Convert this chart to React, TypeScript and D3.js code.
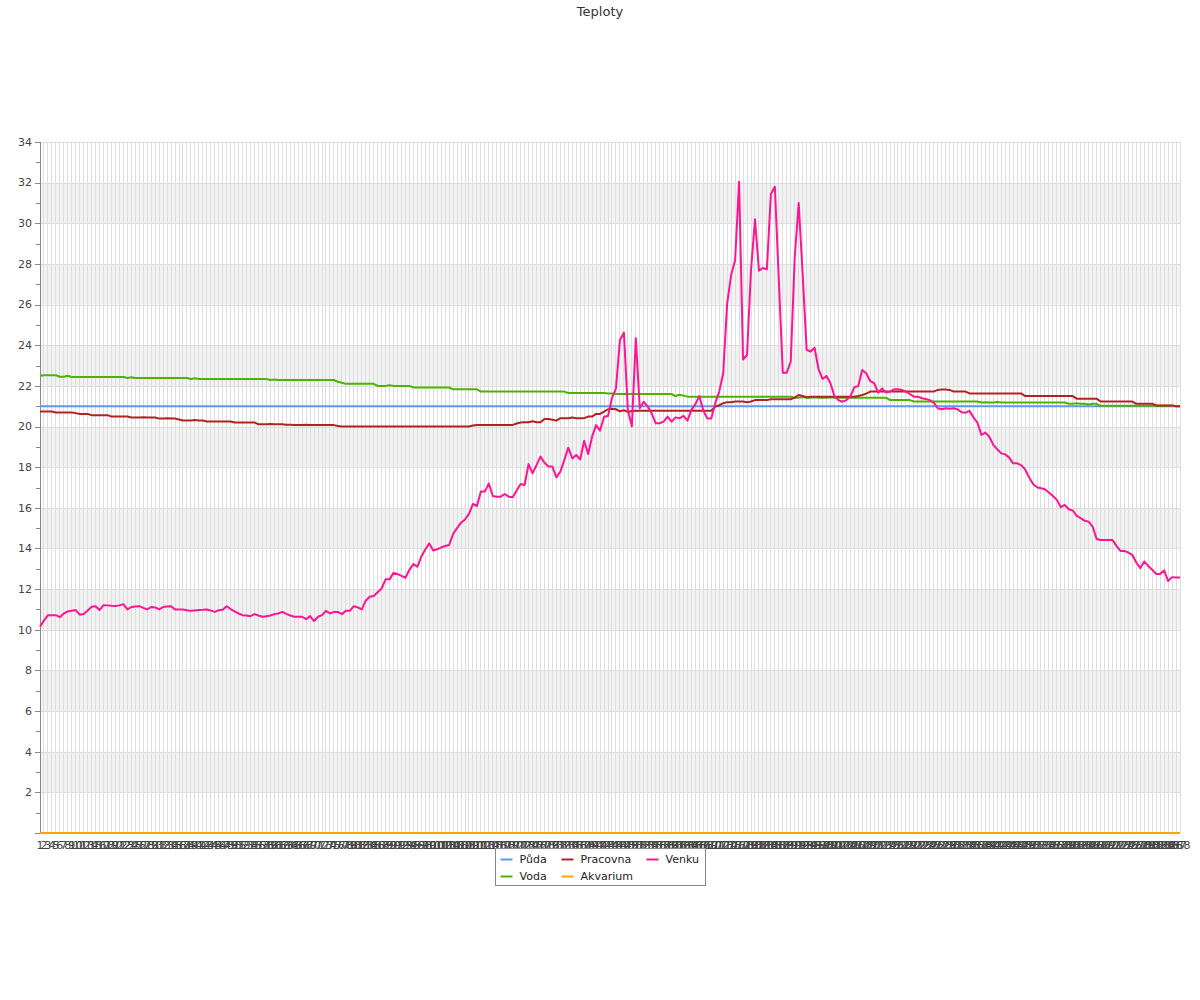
import React, { useEffect, useRef } from 'react';
import * as d3 from 'd3';

// 5-minute readings over one day (288 samples)
const labels = d3.range(1, 289).map(String);

const venku = [
  10.15, 10.45, 10.72, 10.72, 10.72, 10.62, 10.8, 10.9, 10.94, 10.97,
  10.74, 10.78, 10.95, 11.13, 11.16, 10.97, 11.21, 11.2, 11.18, 11.17,
  11.2, 11.26, 11.0, 11.12, 11.15, 11.16, 11.08, 11.0, 11.12, 11.1,
  11.0, 11.12, 11.14, 11.16, 11.0, 11.0, 11.0, 10.96, 10.93, 10.95,
  10.97, 10.98, 11.0, 10.94, 10.88, 10.96, 10.98, 11.16, 11.02, 10.9,
  10.8, 10.72, 10.7, 10.67, 10.77, 10.7, 10.64, 10.67, 10.7, 10.77,
  10.8, 10.88, 10.78, 10.7, 10.64, 10.64, 10.64, 10.52, 10.67, 10.43,
  10.64, 10.72, 10.93, 10.8, 10.88, 10.88, 10.77, 10.93, 10.93, 11.16,
  11.1, 11.0, 11.43, 11.62, 11.66, 11.85, 12.03, 12.48, 12.48, 12.8,
  12.74, 12.65, 12.56, 12.95, 13.23, 13.1, 13.6, 13.95, 14.25, 13.9,
  13.96, 14.05, 14.12, 14.17, 14.71, 15.0, 15.27, 15.43, 15.7, 16.19,
  16.09, 16.8, 16.8, 17.2, 16.58, 16.55, 16.55, 16.68, 16.55, 16.52,
  16.85, 17.17, 17.12, 18.15, 17.7, 18.1, 18.52, 18.22, 18.03, 18.03,
  17.5, 17.78, 18.35, 18.96, 18.43, 18.6, 18.38, 19.3, 18.65, 19.5,
  20.07, 19.8, 20.48, 20.52, 21.4, 21.88, 24.26, 24.62, 20.8, 20.0,
  24.34, 20.9, 21.22, 20.98, 20.65, 20.16, 20.16, 20.24, 20.49, 20.24,
  20.45, 20.4, 20.52, 20.29, 20.82, 21.1, 21.5, 20.78, 20.4, 20.4,
  21.15, 21.72, 22.62, 26.06, 27.46, 28.19, 32.05, 23.3, 23.52, 27.7,
  30.2, 27.67, 27.8, 27.74, 31.44, 31.8, 27.2, 22.65, 22.65, 23.2,
  28.3, 31.0, 27.5, 23.77, 23.69, 23.88, 22.82, 22.34, 22.49, 22.13,
  21.5, 21.3, 21.22, 21.3, 21.47, 21.93, 21.99, 22.78, 22.62, 22.24,
  22.13, 21.67, 21.88, 21.67, 21.72, 21.83, 21.83, 21.8, 21.72, 21.6,
  21.47, 21.47, 21.39, 21.36, 21.3, 21.18, 20.9, 20.85, 20.9, 20.87,
  20.9, 20.85, 20.7, 20.68, 20.77, 20.45, 20.19, 19.59, 19.7, 19.5,
  19.1, 18.88, 18.68, 18.63, 18.47, 18.19, 18.19, 18.1, 17.9, 17.5,
  17.17, 17.01, 16.96, 16.91, 16.75, 16.58, 16.39, 16.03, 16.14, 15.93,
  15.87, 15.6, 15.49, 15.36, 15.32, 15.08, 14.47, 14.42, 14.42, 14.42,
  14.42, 14.13, 13.88, 13.88, 13.8, 13.68, 13.31, 13.03, 13.36, 13.14,
  12.95, 12.75, 12.75, 12.92, 12.4, 12.59, 12.57, 12.57,
];

const pracovna = [
  20.74, 20.74, 20.74, 20.74, 20.69, 20.69, 20.69, 20.69, 20.69, 20.66,
  20.62, 20.62, 20.62, 20.56, 20.56, 20.56, 20.56, 20.56, 20.49, 20.49,
  20.49, 20.49, 20.49, 20.44, 20.44, 20.44, 20.46, 20.44, 20.44, 20.44,
  20.39, 20.39, 20.41, 20.39, 20.39, 20.35, 20.3, 20.3, 20.3, 20.32,
  20.3, 20.3, 20.25, 20.25, 20.25, 20.25, 20.25, 20.25, 20.25, 20.2,
  20.2, 20.2, 20.2, 20.2, 20.2, 20.11, 20.11, 20.11, 20.13, 20.11,
  20.11, 20.11, 20.09, 20.09, 20.07, 20.07, 20.07, 20.09, 20.07, 20.07,
  20.07, 20.07, 20.07, 20.07, 20.07, 20.03, 20.0, 20.0, 20.0, 20.0,
  20.0, 20.0, 20.0, 20.0, 20.0, 20.0, 20.0, 20.0, 20.0, 20.0,
  20.0, 20.0, 20.0, 20.0, 20.0, 20.0, 20.0, 20.0, 20.0, 20.0,
  20.0, 20.0, 20.0, 20.0, 20.0, 20.0, 20.0, 20.0, 20.0, 20.05,
  20.08, 20.08, 20.08, 20.08, 20.08, 20.08, 20.08, 20.08, 20.08, 20.08,
  20.15, 20.2, 20.21, 20.21, 20.26, 20.21, 20.21, 20.37, 20.37, 20.33,
  20.29, 20.41, 20.41, 20.41, 20.44, 20.41, 20.41, 20.41, 20.49, 20.49,
  20.62, 20.62, 20.73, 20.85, 20.88, 20.85, 20.75, 20.8, 20.72, 20.76,
  20.78, 20.78, 20.78, 20.78, 20.78, 20.78, 20.78, 20.78, 20.78, 20.78,
  20.78, 20.78, 20.78, 20.78, 20.78, 20.78, 20.78, 20.78, 20.78, 20.78,
  20.98, 21.05, 21.15, 21.2, 21.2, 21.23, 21.23, 21.23, 21.2, 21.23,
  21.3, 21.3, 21.3, 21.3, 21.34, 21.34, 21.34, 21.34, 21.34, 21.34,
  21.42, 21.55, 21.5, 21.44, 21.47, 21.47, 21.47, 21.47, 21.47, 21.47,
  21.47, 21.47, 21.47, 21.47, 21.47, 21.47, 21.5, 21.55, 21.62, 21.72,
  21.72, 21.72, 21.72, 21.72, 21.72, 21.72, 21.72, 21.72, 21.72, 21.72,
  21.72, 21.72, 21.72, 21.72, 21.72, 21.72, 21.8, 21.82, 21.82, 21.8,
  21.72, 21.72, 21.72, 21.72, 21.63, 21.63, 21.63, 21.63, 21.63, 21.63,
  21.63, 21.63, 21.63, 21.63, 21.63, 21.63, 21.63, 21.63, 21.5, 21.5,
  21.5, 21.5, 21.5, 21.5, 21.5, 21.5, 21.5, 21.5, 21.5, 21.5,
  21.5, 21.37, 21.37, 21.37, 21.37, 21.37, 21.37, 21.23, 21.23, 21.23,
  21.23, 21.23, 21.23, 21.23, 21.23, 21.23, 21.12, 21.12, 21.12, 21.12,
  21.12, 21.04, 21.04, 21.04, 21.04, 21.04, 21.0, 21.0,
];

const voda = [
  22.5, 22.52, 22.52, 22.52, 22.52, 22.45, 22.45, 22.5, 22.44, 22.44,
  22.44, 22.44, 22.44, 22.44, 22.44, 22.44, 22.44, 22.44, 22.44, 22.44,
  22.44, 22.44, 22.39, 22.42, 22.39, 22.39, 22.39, 22.39, 22.39, 22.39,
  22.39, 22.39, 22.39, 22.39, 22.39, 22.39, 22.39, 22.39, 22.34, 22.37,
  22.34, 22.34, 22.34, 22.34, 22.34, 22.34, 22.34, 22.34, 22.34, 22.34,
  22.34, 22.34, 22.34, 22.34, 22.34, 22.34, 22.34, 22.34, 22.29, 22.31,
  22.29, 22.29, 22.29, 22.29, 22.29, 22.29, 22.29, 22.29, 22.29, 22.29,
  22.29, 22.29, 22.29, 22.29, 22.29, 22.2, 22.15, 22.1, 22.1, 22.1,
  22.1, 22.1, 22.1, 22.1, 22.1, 22.0, 22.0, 22.0, 22.03, 22.0,
  22.0, 22.0, 22.0, 22.0, 21.92, 21.92, 21.92, 21.92, 21.92, 21.92,
  21.92, 21.92, 21.92, 21.92, 21.83, 21.83, 21.83, 21.83, 21.83, 21.83,
  21.83, 21.72, 21.72, 21.72, 21.72, 21.72, 21.72, 21.72, 21.72, 21.72,
  21.72, 21.72, 21.72, 21.72, 21.72, 21.72, 21.72, 21.72, 21.72, 21.72,
  21.72, 21.72, 21.72, 21.65, 21.65, 21.65, 21.65, 21.65, 21.65, 21.65,
  21.65, 21.65, 21.65, 21.62, 21.62, 21.6, 21.6, 21.6, 21.6, 21.6,
  21.6, 21.6, 21.6, 21.6, 21.6, 21.6, 21.6, 21.6, 21.6, 21.6,
  21.5, 21.56, 21.52, 21.47, 21.47, 21.47, 21.47, 21.47, 21.47, 21.47,
  21.47, 21.47, 21.47, 21.47, 21.47, 21.47, 21.47, 21.47, 21.47, 21.47,
  21.47, 21.47, 21.47, 21.47, 21.47, 21.47, 21.47, 21.47, 21.47, 21.47,
  21.42, 21.42, 21.45, 21.42, 21.42, 21.44, 21.42, 21.42, 21.42, 21.44,
  21.42, 21.42, 21.42, 21.42, 21.42, 21.42, 21.42, 21.42, 21.42, 21.42,
  21.42, 21.42, 21.42, 21.42, 21.3, 21.3, 21.3, 21.3, 21.3, 21.3,
  21.23, 21.23, 21.23, 21.23, 21.23, 21.23, 21.23, 21.23, 21.23, 21.23,
  21.23, 21.23, 21.23, 21.23, 21.23, 21.23, 21.23, 21.18, 21.2, 21.18,
  21.18, 21.21, 21.18, 21.18, 21.18, 21.18, 21.18, 21.18, 21.18, 21.18,
  21.18, 21.18, 21.18, 21.18, 21.18, 21.18, 21.18, 21.18, 21.18, 21.12,
  21.12, 21.14, 21.12, 21.12, 21.08, 21.12, 21.12, 21.02, 21.02, 21.02,
  21.02, 21.02, 21.02, 21.02, 21.02, 21.02, 21.02, 21.02, 21.02, 21.02,
  21.02, 21.02, 21.02, 21.02, 21.02, 21.02, 21.0, 21.0,
];

// constant readings
const puda = labels.map(() => 21.0);
const akvarium = labels.map(() => 0);

const series = [
  { name: 'Půda', color: '#6495ed', values: puda },
  { name: 'Voda', color: '#4cb300', values: voda },
  { name: 'Pracovna', color: '#b22222', values: pracovna },
  { name: 'Akvarium', color: '#ffa500', values: akvarium },
  { name: 'Venku', color: '#ff1493', values: venku },
];
const legendOrder = ['Půda', 'Pracovna', 'Venku', 'Voda', 'Akvarium'];

const App: React.FC = () => {
  const svgRef = useRef<SVGSVGElement>(null);

  useEffect(() => {
    if (!svgRef.current) return;
    const svg = d3.select(svgRef.current);
    svg.selectAll('*').remove();

    const font = "'DejaVu Sans', sans-serif";
    const margin = { top: 142, right: 20, bottom: 167, left: 40 };
    const width = 1200;
    const height = 1000;
    const innerWidth = width - margin.left - margin.right;
    const innerHeight = height - margin.top - margin.bottom;

    const x = d3.scalePoint<string>().domain(labels).range([0, innerWidth]);
    const y = d3.scaleLinear().domain([0, 34]).range([innerHeight, 0]);

    svg.append('text')
      .attr('x', width / 2)
      .attr('y', 16)
      .attr('text-anchor', 'middle')
      .style('font-family', font)
      .style('font-size', '13px')
      .style('fill', '#333')
      .text('Teploty');

    const g = svg.append('g').attr('transform', `translate(${margin.left},${margin.top})`);

    // alternating bands
    g.selectAll('rect.band')
      .data(d3.range(2, 34, 4))
      .join('rect')
      .attr('x', 0)
      .attr('width', innerWidth)
      .attr('y', d => y(d + 2))
      .attr('height', d => y(d) - y(d + 2))
      .attr('fill', '#f2f2f2');

    // vertical grid
    g.selectAll('line.vg')
      .data(labels)
      .join('line')
      .attr('x1', d => x(d)!)
      .attr('x2', d => x(d)!)
      .attr('y1', 0)
      .attr('y2', innerHeight)
      .attr('stroke', '#dedede')
      .attr('stroke-width', 1)
      .attr('shape-rendering', 'crispEdges');

    // horizontal grid
    g.selectAll('line.hg')
      .data(d3.range(2, 35, 2))
      .join('line')
      .attr('x1', 0)
      .attr('x2', innerWidth)
      .attr('y1', d => Math.round(y(d)) + 0.5)
      .attr('y2', d => Math.round(y(d)) + 0.5)
      .attr('stroke', '#dedede');

    // y axis
    const yAxis = g.append('g');
    yAxis.append('line')
      .attr('x1', 0.5).attr('x2', 0.5)
      .attr('y1', 0).attr('y2', innerHeight)
      .attr('stroke', '#888');
    yAxis.selectAll('line.tick')
      .data(d3.range(0, 35, 1))
      .join('line')
      .attr('x1', d => (d % 2 === 0 ? -5 : -4))
      .attr('x2', 0)
      .attr('y1', d => Math.round(y(d)) + 0.5)
      .attr('y2', d => Math.round(y(d)) + 0.5)
      .attr('stroke', '#888');
    yAxis.selectAll('text')
      .data(d3.range(2, 35, 2))
      .join('text')
      .attr('x', -8)
      .attr('y', d => y(d))
      .attr('dy', '0.35em')
      .attr('text-anchor', 'end')
      .style('font-family', font)
      .style('font-size', '11px')
      .style('fill', '#444')
      .text(d => String(d));

    // x axis
    g.append('line')
      .attr('x1', 0).attr('x2', innerWidth)
      .attr('y1', innerHeight + 0.5).attr('y2', innerHeight + 0.5)
      .attr('stroke', '#888');
    g.append('g')
      .selectAll('text')
      .data(labels)
      .join('text')
      .attr('x', d => x(d)!)
      .attr('y', innerHeight + 16)
      .attr('text-anchor', 'middle')
      .style('font-family', font)
      .style('font-size', '11px')
      .style('fill', '#444')
      .text(d => d);

    // lines
    const line = d3.line<number>()
      .x((_, i) => x(labels[i])!)
      .y(d => y(d));

    series.forEach(s => {
      g.append('path')
        .datum(s.values)
        .attr('fill', 'none')
        .attr('stroke', s.color)
        .attr('stroke-width', 2)
        .attr('stroke-linejoin', 'round')
        .attr('d', line);
    });

    // legend
    const lg = svg.append('g').attr('transform', 'translate(495.5,848.5)');
    lg.append('rect')
      .attr('width', 210)
      .attr('height', 37)
      .attr('fill', '#fff')
      .attr('stroke', '#888');
    const colX = [5, 66, 151];
    legendOrder.forEach((name, i) => {
      const s = series.find(d => d.name === name)!;
      const cx = colX[i % 3];
      const cy = 11 + Math.floor(i / 3) * 17;
      lg.append('line')
        .attr('x1', cx).attr('x2', cx + 12)
        .attr('y1', cy).attr('y2', cy)
        .attr('stroke', s.color)
        .attr('stroke-width', 2);
      lg.append('text')
        .attr('x', cx + 19)
        .attr('y', cy)
        .attr('dy', '0.35em')
        .style('font-family', font)
        .style('font-size', '11px')
        .style('fill', '#222')
        .text(name);
    });
  }, []);

  return (
    <svg
      ref={svgRef}
      width={1200}
      height={1000}
      viewBox="0 0 1200 1000"
      style={{ position: 'absolute', left: 0, top: 0, background: '#fff' }}
    />
  );
};

export default App;
